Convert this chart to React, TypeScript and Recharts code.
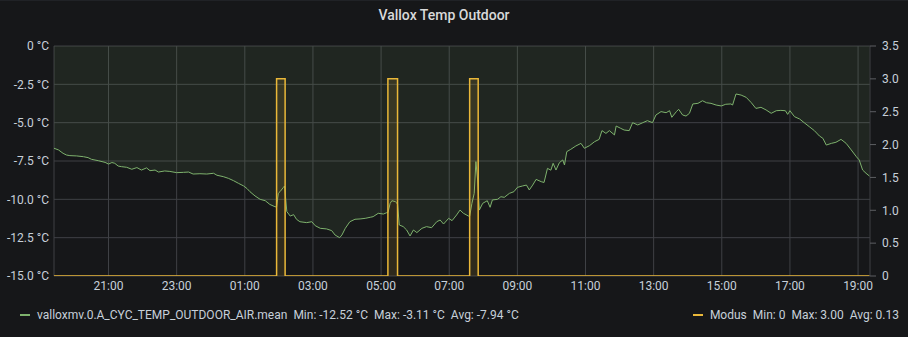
import React from 'react';
import { ComposedChart, Area, XAxis, YAxis, CartesianGrid } from 'recharts';

// outdoor temperature (°C)
const tempTimes = [
  '19:24', '19:32', '19:40', '19:46', '19:52', '20:04', '20:16', '20:24', '20:30', '20:42',
  '20:54', '21:00', '21:06', '21:11', '21:17', '21:23', '21:32', '21:41', '21:50', '21:58',
  '22:07', '22:13', '22:22', '22:28', '22:39', '22:48', '23:00', '23:12', '23:21', '23:29',
  '23:41', '23:53', '00:05', '00:11', '00:22', '00:31', '00:40', '00:49', '00:58', '01:04',
  '01:09', '01:18', '01:27', '01:36', '01:44', '01:53', '01:56', '01:59', '02:02', '02:08',
  '02:10', '02:14', '02:20', '02:26', '02:31', '02:37', '02:49', '02:58', '03:04', '03:13',
  '03:24', '03:33', '03:39', '03:47', '03:51', '03:57', '04:05', '04:14', '04:23', '04:32',
  '04:41', '04:46', '04:55', '05:04', '05:10', '05:12', '05:16', '05:19', '05:25', '05:28',
  '05:29', '05:32', '05:39', '05:45', '05:51', '05:57', '06:03', '06:12', '06:20', '06:29',
  '06:38', '06:44', '06:50', '06:59', '07:05', '07:13', '07:19', '07:25', '07:34', '07:36',
  '07:40', '07:44', '07:47', '07:50', '07:53', '07:59', '08:07', '08:12', '08:16', '08:25',
  '08:31', '08:37', '08:46', '08:54', '09:00', '09:09', '09:16', '09:21', '09:27', '09:33',
  '09:42', '09:47', '09:53', '09:59', '10:03', '10:08', '10:14', '10:20', '10:23', '10:27',
  '10:34', '10:43', '10:52', '10:58', '11:07', '11:16', '11:24', '11:29', '11:36', '11:42',
  '11:51', '11:54', '12:02', '12:08', '12:17', '12:23', '12:32', '12:41', '12:49', '12:58',
  '13:04', '13:13', '13:22', '13:28', '13:32', '13:40', '13:44', '13:51', '13:57', '14:03',
  '14:09', '14:18', '14:26', '14:33', '14:41', '14:50', '14:59', '15:07', '15:16', '15:19',
  '15:25', '15:34', '15:43', '15:52', '16:00', '16:09', '16:18', '16:27', '16:36', '16:44',
  '16:52', '16:56', '17:00', '17:08', '17:17', '17:25', '17:34', '17:43', '17:52', '17:58',
  '18:04', '18:13', '18:21', '18:30', '18:39', '18:48', '18:57', '19:02', '19:08', '19:14',
  '19:20',
];
const tempValues = [
  -6.67, -6.78, -7.0, -7.11, -7.15, -7.17, -7.22, -7.28, -7.39, -7.48,
  -7.59, -7.7, -7.6, -7.65, -7.83, -7.87, -7.91, -8.04, -7.93, -8.09,
  -7.95, -8.13, -8.09, -8.22, -8.15, -8.18, -8.26, -8.24, -8.22, -8.35,
  -8.33, -8.35, -8.3, -8.43, -8.52, -8.63, -8.78, -8.96, -9.13, -9.3,
  -9.5, -9.78, -10.0, -10.09, -10.33, -10.48, -10.5, -9.61, -9.5, -9.22,
  -9.13, -10.8, -11.09, -11.0, -11.3, -11.46, -11.52, -11.46, -11.72, -11.89,
  -11.93, -12.04, -12.33, -12.5, -12.33, -11.89, -11.46, -11.3, -11.28, -11.24,
  -11.17, -11.13, -10.91, -10.96, -10.87, -10.87, -10.26, -10.09, -10.15, -10.26,
  -10.3, -11.67, -11.78, -12.0, -12.39, -12.0, -12.17, -11.89, -11.78, -11.85,
  -11.46, -11.35, -11.61, -11.24, -11.39, -11.02, -10.7, -10.91, -11.09, -11.1,
  -10.26, -9.61, -7.54, -8.74, -10.7, -10.26, -10.09, -10.52, -10.04, -10.0,
  -9.83, -9.87, -9.61, -9.5, -9.22, -9.13, -9.07, -9.39, -9.07, -8.7,
  -8.85, -8.9, -7.98, -8.1, -7.65, -8.09, -7.61, -7.43, -7.76, -6.89,
  -6.74, -6.52, -6.35, -6.67, -6.5, -6.24, -6.09, -5.52, -5.7, -5.52,
  -5.8, -5.22, -5.37, -5.48, -5.52, -5.0, -5.15, -5.0, -4.87, -5.0,
  -4.5, -4.28, -4.35, -4.22, -4.65, -4.28, -4.13, -4.5, -4.57, -4.39,
  -3.78, -3.74, -3.57, -3.7, -3.74, -3.85, -3.91, -3.8, -3.78, -3.85,
  -3.13, -3.2, -3.35, -3.7, -4.07, -4.0, -4.17, -4.39, -4.22, -4.2,
  -4.22, -4.46, -4.22, -4.61, -4.76, -5.0, -5.26, -5.52, -5.87, -6.02,
  -6.46, -6.35, -6.28, -6.09, -6.35, -6.78, -7.22, -7.43, -8.09, -8.3,
  -8.48,
];

// Modus (right axis)
const modusTimes = ['19:24', '01:56', '02:11', '05:12', '05:29', '07:36', '07:51', '19:20'];
const modusValues = [0, 3, 0, 3, 0, 3, 0, 0];

const xTickLabels = ['21:00', '23:00', '01:00', '03:00', '05:00', '07:00', '09:00', '11:00', '13:00', '15:00', '17:00', '19:00'];
const leftTicks = [-15, -12.5, -10, -7.5, -5, -2.5, 0];
const rightTicks = [0, 0.5, 1, 1.5, 2, 2.5, 3, 3.5];

const legendNames = ['valloxmv.0.A_CYC_TEMP_OUTDOOR_AIR.mean', 'Modus'];
const legendColors = ['#7eb26d', '#eab839'];
const legendMin = ['-12.52 °C', '0'];
const legendMax = ['-3.11 °C', '3.00'];
const legendAvg = ['-7.94 °C', '0.13'];

// window starts 19:24, anything earlier belongs to the next day
const toHours = (s: string) => {
  const [h, m] = s.split(':').map(Number);
  const v = h + m / 60;
  return v < 19.39 ? v + 24 : v;
};

const tempData = tempTimes.map((t, i) => ({ t: toHours(t), v: tempValues[i] }));
const modusData = modusTimes.map((t, i) => ({ t: toHours(t), v: modusValues[i] }));
const xTicks = xTickLabels.map(toHours);

const textColor = '#c7d0d9';
const gridColor = '#3f4145';

// plain svg text so the labels never wrap
const LeftTick = (props: any) => {
  const { x, y, payload } = props;
  const v = payload.value as number;
  return (
    <text x={x} y={y} dy="0.35em" textAnchor="end" fill={textColor} fontSize={12}>
      {v === 0 ? '0 °C' : `${v.toFixed(1)} °C`}
    </text>
  );
};

const LegendItem = ({ i }: { i: number }) => (
  <div style={{ display: 'flex', alignItems: 'center', whiteSpace: 'nowrap' }}>
    <span style={{ display: 'inline-block', width: 10, height: 2, background: legendColors[i], marginRight: 7 }} />
    <span>{legendNames[i]}</span>
    <span style={{ marginLeft: 6 }}>Min: {legendMin[i]}</span>
    <span style={{ marginLeft: 6 }}>Max: {legendMax[i]}</span>
    <span style={{ marginLeft: 6 }}>Avg: {legendAvg[i]}</span>
  </div>
);

export default function App() {
  return (
    <div
      style={{
        position: 'absolute',
        left: 0,
        top: 0,
        width: 908,
        height: 337,
        background: '#161719',
        borderTop: '1px solid #202226',
        boxSizing: 'border-box',
        fontFamily: 'Roboto, sans-serif',
        overflow: 'hidden',
      }}
    >
      <div
        style={{
          position: 'absolute',
          top: 5,
          left: 0,
          width: 888,
          textAlign: 'center',
          fontSize: 14,
          fontWeight: 500,
          color: '#d8d9da',
          lineHeight: '18px',
        }}
      >
        Vallox Temp Outdoor
      </div>

      <div style={{ position: 'absolute', top: -1, left: 0 }}>
        <ComposedChart width={908} height={337} margin={{ top: 46, right: 0, bottom: 31, left: 0 }}>
          <CartesianGrid stroke={gridColor} yAxisId="left" />
          <XAxis
            dataKey="t"
            type="number"
            height={30}
            domain={[19.4, 43.35]}
            ticks={xTicks}
            allowDataOverflow
            tickFormatter={(h: number) => `${String(Math.round(h) % 24).padStart(2, '0')}:00`}
            axisLine={false}
            tickLine={false}
            tickSize={3}
            tickMargin={2}
            tick={{ fill: textColor, fontSize: 12 }}
          />
          <YAxis
            yAxisId="left"
            orientation="left"
            width={54}
            domain={[-15, 0]}
            ticks={leftTicks}
            allowDataOverflow
            axisLine={false}
            tickLine={false}
            tickSize={3}
            tickMargin={2}
            tick={<LeftTick />}
          />
          <YAxis
            yAxisId="right"
            orientation="right"
            width={38}
            domain={[0, 3.5]}
            ticks={rightTicks}
            allowDataOverflow
            tickFormatter={(v: number) => (v === 0 ? '0' : v.toFixed(1))}
            axisLine={false}
            tickLine={{ stroke: '#5c5e62' }}
            tickSize={6}
            tickMargin={6}
            tick={{ fill: textColor, fontSize: 12 }}
          />
          <Area
            yAxisId="left"
            data={tempData}
            dataKey="v"
            type="linear"
            baseValue={0}
            stroke="#7eb26d"
            strokeWidth={1}
            fill="#7eb26d"
            fillOpacity={0.1}
            dot={false}
            activeDot={false}
            isAnimationActive={false}
          />
          <Area
            yAxisId="right"
            data={modusData}
            dataKey="v"
            type="stepAfter"
            baseValue={0}
            stroke="#eab839"
            strokeWidth={1.5}
            fill="#eab839"
            fillOpacity={0.12}
            dot={false}
            activeDot={false}
            isAnimationActive={false}
          />
        </ComposedChart>
      </div>

      <div
        style={{
          position: 'absolute',
          top: 306,
          left: 20,
          right: 9,
          display: 'flex',
          justifyContent: 'space-between',
          fontSize: 12,
          lineHeight: '16px',
          color: textColor,
        }}
      >
        <LegendItem i={0} />
        <LegendItem i={1} />
      </div>
    </div>
  );
}
